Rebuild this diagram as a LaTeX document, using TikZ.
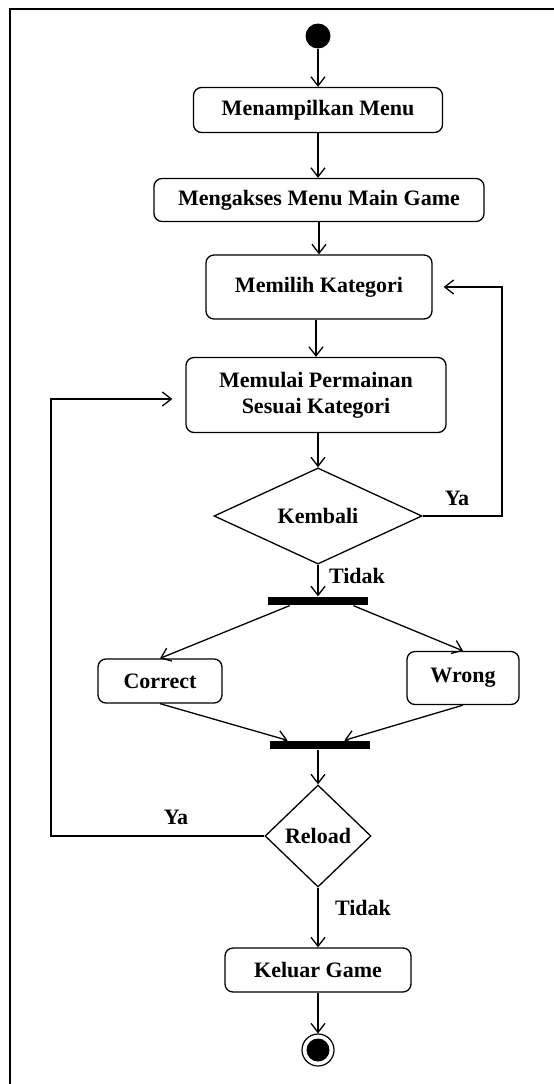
\documentclass[tikz,border=0pt]{standalone}
\usepackage{fontspec}
\setmainfont{Liberation Serif}
\usetikzlibrary{shapes.geometric,arrows.meta,calc}

\begin{document}
\begin{tikzpicture}[x=1pt,y=-1pt,
  font=\fontsize{22}{26}\selectfont\bfseries,
  line width=1.3pt,
  act/.style={draw, rectangle, rounded corners=8pt, inner sep=0pt, align=center},
  decision/.style={draw, diamond, inner sep=0pt},
  bar/.style={fill=black, rectangle, inner sep=0pt, minimum width=100pt, minimum height=8pt},
  flow/.style={-{Straight Barb[length=9pt,width=14pt,line width=1.3pt]}},
  guard/.style={inner sep=0pt}]
\useasboundingbox (0,0) rectangle (554,1084);
\fill[white] (0,0) rectangle (554,1084);

% frame lines along the top and left
\draw[line width=2pt] (9.5,1084) -- (9.5,9) -- (554,9);

% activity nodes
\node[circle, fill=black, minimum size=25pt, inner sep=0pt] (start) at (318,36) {};
\node[act, minimum width=249pt, minimum height=45pt] (menu) at (318,110) {Menampilkan Menu};
\node[act, minimum width=330pt, minimum height=43pt] (akses) at (319,200) {Mengakses Menu Main Game};
\node[act, minimum width=226pt, minimum height=64pt] (kategori) at (319,287) {Memilih Kategori};
\node[act, minimum width=260pt, minimum height=75pt] (mulai) at (316,395) {Memulai Permainan\\Sesuai Kategori};
\node[decision, minimum width=208pt, minimum height=88pt] (kembali) at (318,516) {Kembali};
\node[bar] (fork) at (318,601) {};
\node[act, minimum width=124pt, minimum height=44pt] (correct) at (160,681) {Correct};
\node[act, minimum width=112pt, minimum height=53pt] (wrong) at (463,678) {Wrong};
\node[bar] (join) at (320,745) {};
\node[decision, minimum width=106pt, minimum height=102pt] (reload) at (318,836) {Reload};
\node[act, minimum width=186pt, minimum height=44pt] (keluar) at (318,970) {Keluar Game};
\node[circle, draw, minimum size=32pt, inner sep=0pt, line width=1.2pt] (end) at (318,1050) {};
\fill (end.center) circle (11.5pt);

% loop-back columns
\coordinate (rx) at (502,0);
\coordinate (lx) at (51,0);

% control flow
\draw[flow] (start) -- (menu);
\draw[flow] (menu) -- (menu |- akses.north);
\draw[flow] (akses) -- (akses |- kategori.north);
\draw[flow] (kategori.south -| mulai) -- (mulai);
\draw[flow] (mulai.south -| kembali) -- (kembali);
\draw[flow] (kembali) -- (fork);
\draw[flow] ($(fork.south west)!0.22!(fork.south east)$) -- (correct.north);
\draw[flow] ($(fork.south west)!0.85!(fork.south east)$) -- (wrong.north);
\draw[flow] (correct.south) -- ($(join.north west)!0.18!(join.north east)$);
\draw[flow] (wrong.south) -- ($(join.north west)!0.74!(join.north east)$);
\draw[flow] (join.south -| reload) -- (reload);
\draw[flow] (reload) -- (keluar);
\draw[flow] (keluar) -- (end);

\draw[flow, shorten >=11pt] (kembali.east) -| (rx |- kategori.east) -- (kategori.east);
\draw[flow, shorten >=13pt] (reload.west) -| ($(lx |- mulai.west)+(0,4)$) -- ($(mulai.west)+(0,4)$);

% guard labels
\node[guard] (ya1) at (457,498) {Ya};
\node[guard] (tidak1) at (357,576) {Tidak};
\node[guard] (ya2) at (176,817) {Ya};
\node[guard] (tidak2) at (363,908) {Tidak};
\end{tikzpicture}
\end{document}
